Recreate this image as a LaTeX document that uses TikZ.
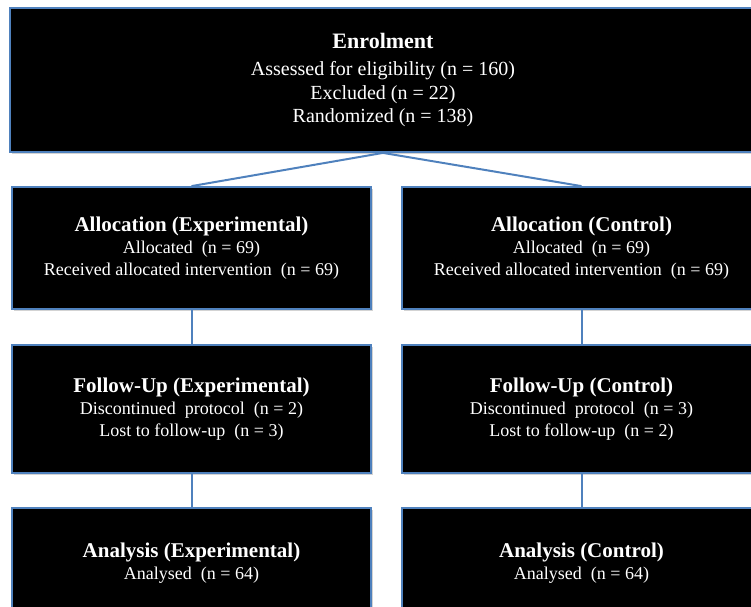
\documentclass[tikz,border=0pt]{standalone}
\usepackage{fontspec}
\setmainfont{Liberation Serif}
\usetikzlibrary{shadows}
\definecolor{boxblue}{HTML}{4F81BD}
\newcommand{\stagehead}[1]{{\fontsize{21}{24}\selectfont\bfseries #1}}

\begin{document}
\begin{tikzpicture}[x=1pt,y=1pt,
  stage/.style={draw=boxblue, line width=1.8pt, fill=black, text=white,
    align=center, inner sep=0pt, font=\fontsize{18}{22}\selectfont,
    drop shadow={shadow xshift=1.5pt, shadow yshift=-2pt, opacity=0.35}},
  link/.style={draw=boxblue, line width=2pt}]
\useasboundingbox (0,0) rectangle (751,-606);
\clip (0,0) rectangle (751,-606);
\node [stage, minimum width=746, minimum height=144,
  font=\fontsize{20}{23.5}\selectfont] (enrol) at (383,-80)
  {{\fontsize{22}{28}\selectfont\bfseries Enrolment}\\[4pt]
   Assessed for eligibility (n = 160)\\
   Excluded (n = 22)\\
   Randomized (n = 138)};
\node [stage, minimum width=359, minimum height=122] (allocexp) at (191.5,-248)
  {\stagehead{Allocation (Experimental)}\\
   Allocated\ \ (n = 69)\\
   Received\ allocated\ intervention\ \ (n = 69)};
\node [stage, minimum width=359, minimum height=122] (allocctl) at (581.5,-248)
  {\stagehead{Allocation (Control)}\\
   Allocated\ \ (n = 69)\\
   Received\ allocated\ intervention\ \ (n = 69)};
\node [stage, minimum width=359, minimum height=128] (followexp) at (191.5,-409)
  {\stagehead{Follow-Up (Experimental)}\\
   Discontinued\ \ protocol\ \ (n = 2)\\
   Lost to follow-up\ \ (n = 3)};
\node [stage, minimum width=359, minimum height=128] (followctl) at (581.5,-409)
  {\stagehead{Follow-Up (Control)}\\
   Discontinued\ \ protocol\ \ (n = 3)\\
   Lost to follow-up\ \ (n = 2)};
\node [stage, minimum width=359, minimum height=110] (anaexp) at (191.5,-563)
  {\stagehead{Analysis (Experimental)}\\
   Analysed\ \ (n = 64)};
\node [stage, minimum width=359, minimum height=110] (anactl) at (581.5,-563)
  {\stagehead{Analysis (Control)}\\
   Analysed\ \ (n = 64)};
\draw [link] (enrol.south) -- (allocexp.north);
\draw [link] (enrol.south) -- (allocctl.north);
\draw [link] (allocexp) -- (followexp);
\draw [link] (allocctl) -- (followctl);
\draw [link] (followexp) -- (anaexp);
\draw [link] (followctl) -- (anactl);
\end{tikzpicture}
\end{document}
